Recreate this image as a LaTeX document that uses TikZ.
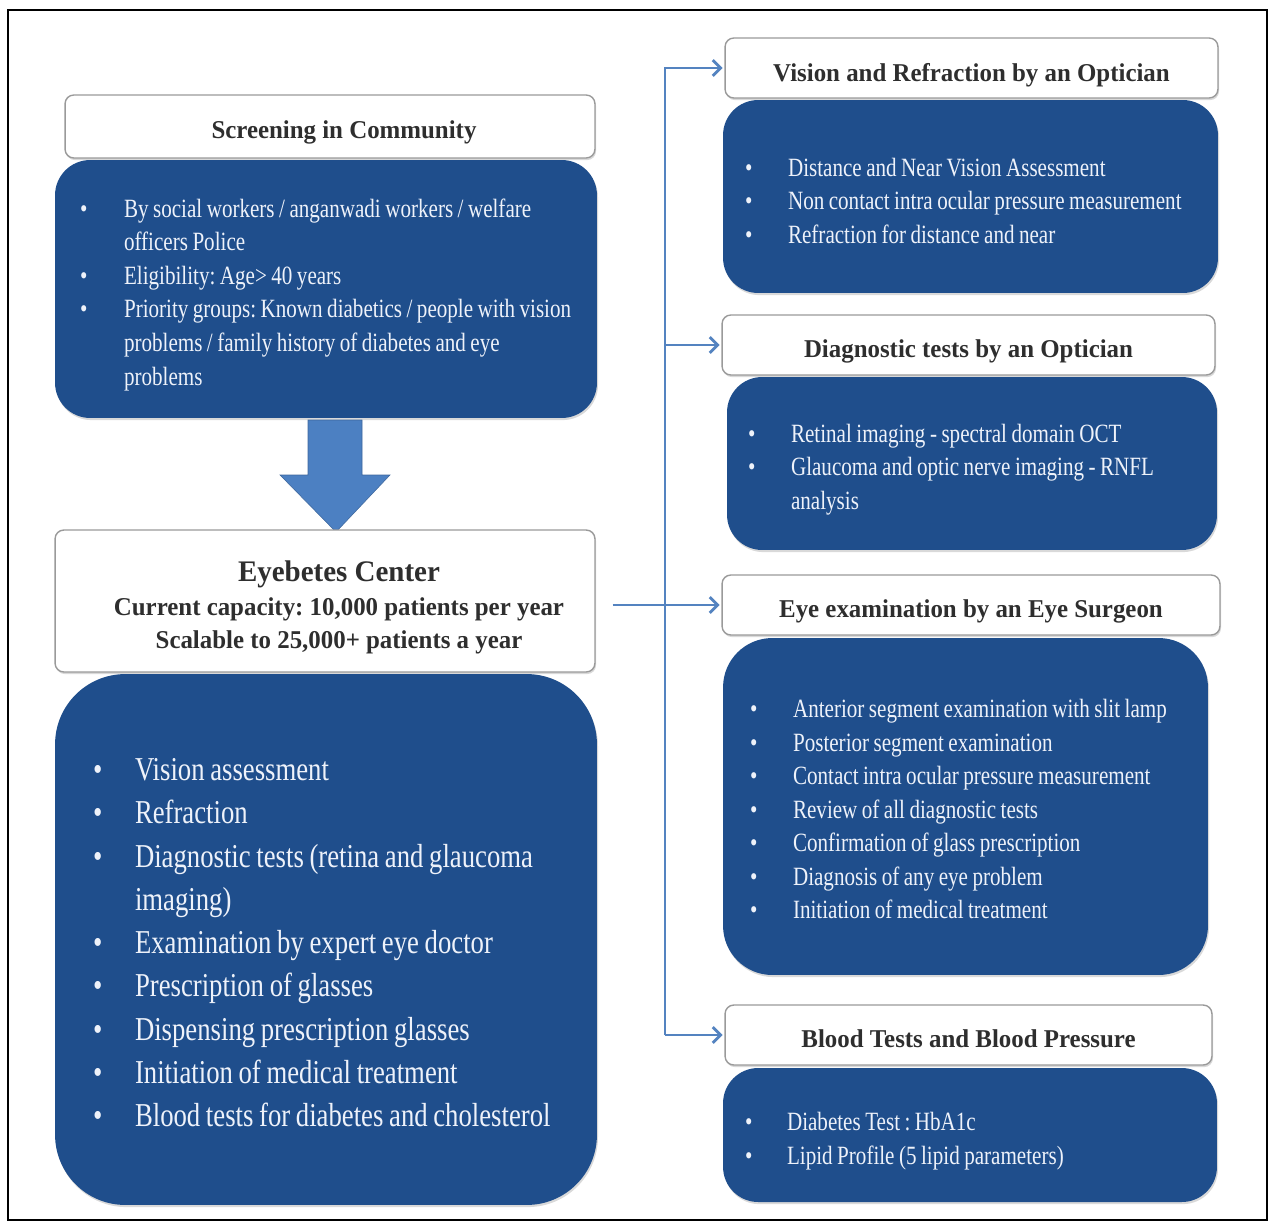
\documentclass[tikz,border=0pt]{standalone}
\usepackage{fontspec}
\usepackage{array}
\setmainfont{Liberation Serif}
\newfontfamily\bodyf[FakeStretch=0.80]{Liberation Serif}
\newfontfamily\hdf[FakeStretch=0.97]{Liberation Serif}
\usetikzlibrary{arrows.meta,shadows,calc}
\definecolor{boxblue}{HTML}{1F4E8C}
\definecolor{linkblue}{HTML}{5483C0}
\definecolor{arrowblue}{HTML}{4C80C2}
\definecolor{hdtext}{HTML}{2E2E2E}
\definecolor{bodytext}{HTML}{EEF2FA}
\definecolor{hdborder}{HTML}{9A9A9A}
\newcommand\lowered[2]{\raisebox{-#1}[\height][\depth]{#2}}
\newcolumntype{T}{>{\frenchspacing\spaceskip=0.17em plus 0.04em minus 0.02em\relax}l}
\tikzset{
  hdrbox/.style={draw=hdborder, line width=0.8pt, fill=white, rounded corners=5pt,
    inner sep=0pt, align=center, text=hdtext,
    font=\hdf\bfseries\fontsize{14.6}{19}\selectfont\frenchspacing,
    drop shadow={shadow xshift=0.6pt, shadow yshift=-1.2pt, opacity=0.3}},
  bluebox/.style={fill=boxblue, rounded corners=20pt, inner ysep=0pt, align=left,
    text=bodytext, font=\bodyf\fontsize{15}{19.1}\selectfont,
    drop shadow={shadow xshift=0.6pt, shadow yshift=-1.2pt, opacity=0.3}},
  conn/.style={draw=linkblue, line width=1.6pt, shorten >=1pt,
    -{Straight Barb[length=4.5pt,width=9pt]}},
}
\begin{document}
\begin{tikzpicture}[x=0.02cm, y=-0.02cm]
\useasboundingbox (0,0) rectangle (1273,1223);
\draw[line width=1.2pt] (8,10) rectangle (1267,1220);

% ---------- left column ----------
\node[hdrbox, minimum width=10.6cm, minimum height=1.26cm] (scrh) at (330,126.5)
  {\hspace*{0.56cm}\lowered{0.12cm}{Screening in Community}};
\node[bluebox, minimum width=10.84cm, minimum height=5.16cm, inner xsep=0.5cm,
  text width=9.84cm] (scrb) at (326,289)
  {\lowered{0.11cm}{\begin{tabular}{@{}p{0.88cm}@{}T@{}}
   \textbullet & By social workers / anganwadi workers / welfare\\
   & officers Police\\
   \textbullet & Eligibility: Age> 40 years\\
   \textbullet & Priority groups: Known diabetics / people with vision\\
   & problems / family history of diabetes and eye\\
   & problems
   \end{tabular}}};

\fill[arrowblue, draw=arrowblue!80!black, line width=0.3pt]
  (308,420) -- (362,420) -- (362,475) -- (390,475) -- (336,532)
  -- (280,475) -- (308,475) -- cycle;

\node[hdrbox, minimum width=10.8cm, minimum height=2.84cm] (eyeh) at (325,601)
  {\hspace*{0.56cm}\lowered{0.15cm}{\begin{tabular}{@{}c@{}}
   {\fontsize{17}{21}\selectfont Eyebetes Center}\\
   Current capacity: 10,000 patients per year\\
   Scalable to 25,000+ patients a year
   \end{tabular}}};
\node[bluebox, rounded corners=40pt, minimum width=10.84cm, minimum height=10.62cm,
  inner xsep=0.76cm, text width=9.32cm,
  font=\bodyf\fontsize{19}{24.6}\selectfont]
  (eyeb) at (326,939.5)
  {\lowered{0.11cm}{\begin{tabular}{@{}p{0.84cm}@{}T@{}}
   \textbullet & Vision assessment\\
   \textbullet & Refraction\\
   \textbullet & Diagnostic tests (retina and glaucoma\\
   & imaging)\\
   \textbullet & Examination by expert eye doctor\\
   \textbullet & Prescription of glasses\\
   \textbullet & Dispensing prescription glasses\\
   \textbullet & Initiation of medical treatment\\
   \textbullet & Blood tests for diabetes and cholesterol
   \end{tabular}}};

% ---------- right column ----------
\node[hdrbox, minimum width=9.86cm, minimum height=1.2cm] (vish) at (971.5,68)
  {\lowered{0.14cm}{Vision and Refraction by an Optician}};
\node[bluebox, minimum width=9.9cm, minimum height=3.86cm, inner xsep=0.44cm,
  text width=9.02cm] (visb) at (970.5,196.5)
  {\lowered{0.13cm}{\begin{tabular}{@{}p{0.86cm}@{}T@{}}
   \textbullet & Distance and Near Vision Assessment\\
   \textbullet & Non contact intra ocular pressure measurement\\
   \textbullet & Refraction for distance and near
   \end{tabular}}};

\node[hdrbox, minimum width=9.86cm, minimum height=1.2cm] (diah) at (968.5,345)
  {\lowered{0.12cm}{Diagnostic tests by an Optician}};
\node[bluebox, minimum width=9.8cm, minimum height=3.46cm, inner xsep=0.42cm,
  text width=8.96cm] (diab) at (972,463.5)
  {\lowered{0.11cm}{\begin{tabular}{@{}p{0.86cm}@{}T@{}}
   \textbullet & Retinal imaging - spectral domain OCT\\
   \textbullet & Glaucoma and optic nerve imaging - RNFL\\
   & analysis
   \end{tabular}}};

\node[hdrbox, minimum width=9.96cm, minimum height=1.2cm] (exah) at (971,605)
  {\lowered{0.12cm}{Eye examination by an Eye Surgeon}};
\node[bluebox, rounded corners=28pt, minimum width=9.7cm, minimum height=6.74cm,
  inner xsep=0.54cm, text width=8.62cm] (exab) at (965.5,806.5)
  {\lowered{0.1cm}{\begin{tabular}{@{}p{0.86cm}@{}T@{}}
   \textbullet & Anterior segment examination with slit lamp\\
   \textbullet & Posterior segment examination\\
   \textbullet & Contact intra ocular pressure measurement\\
   \textbullet & Review of all diagnostic tests\\
   \textbullet & Confirmation of glass prescription\\
   \textbullet & Diagnosis of any eye problem\\
   \textbullet & Initiation of medical treatment
   \end{tabular}}};

\node[hdrbox, minimum width=9.74cm, minimum height=1.2cm] (bloh) at (968.5,1035)
  {\lowered{0.08cm}{Blood Tests and Blood Pressure}};
\node[bluebox, minimum width=9.88cm, minimum height=2.68cm, inner xsep=0.44cm,
  text width=9.0cm] (blob) at (970,1135)
  {\lowered{0.12cm}{\begin{tabular}{@{}p{0.84cm}@{}T@{}}
   \textbullet & Diabetes Test : HbA1c\\
   \textbullet & Lipid Profile (5 lipid parameters)
   \end{tabular}}};

% ---------- connectors ----------
\coordinate (bus) at (665,0);
\coordinate (tap) at ([xshift=0.34cm]eyeh.east);
\draw[conn] (bus |- bloh.west) -- (bus |- vish.west) -- (vish.west);
\draw[conn] (bus |- diah.west) -- (diah.west);
\draw[conn] (bus |- bloh.west) -- (bloh.west);
\draw[conn] (tap |- exah.west) -- (exah.west);
\end{tikzpicture}
\end{document}
